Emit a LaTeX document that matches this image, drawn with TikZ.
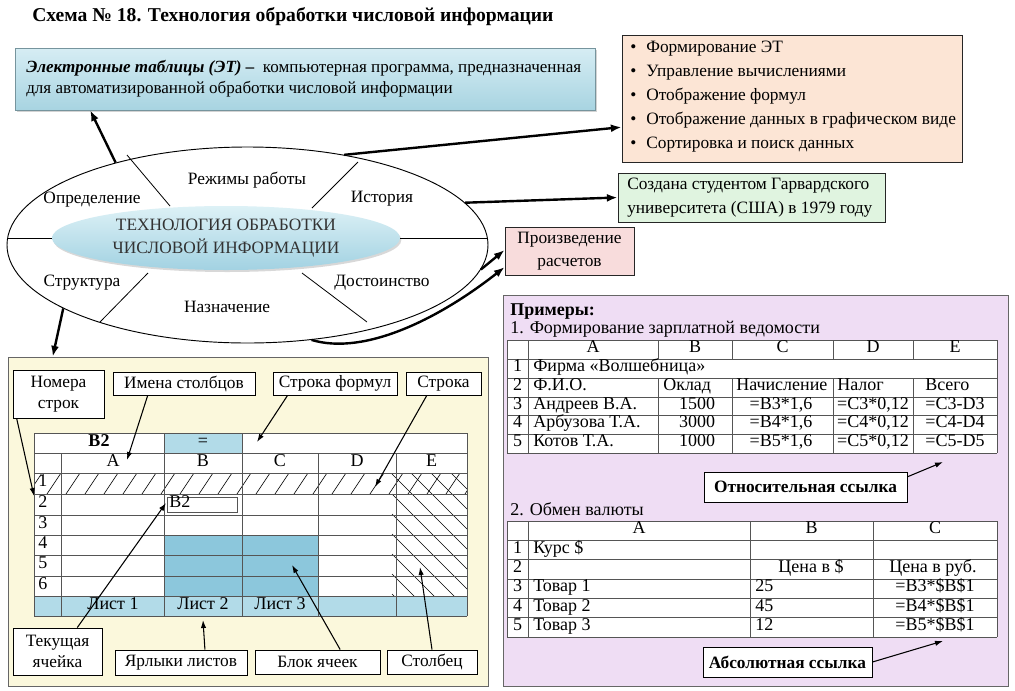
\documentclass[tikz,border=0pt]{standalone}
\usepackage{fontspec}
\setmainfont{Liberation Serif}
\usetikzlibrary{arrows.meta,calc,shadows,shapes.geometric}
\definecolor{defTop}{HTML}{D6EDF4}
\definecolor{defBot}{HTML}{A8D4E1}
\definecolor{listFill}{HTML}{FCE5D5}
\definecolor{greenFill}{HTML}{E0F4E0}
\definecolor{pinkFill}{HTML}{F8DCDC}
\definecolor{exFill}{HTML}{EFDDF4}
\definecolor{sheetFill}{HTML}{FBF8DC}
\definecolor{tabBlue}{HTML}{B2DBE8}
\definecolor{blockBlue}{HTML}{8CC7DC}
\definecolor{ellTop}{HTML}{DDF1F6}
\definecolor{ellBot}{HTML}{A2D2E2}
\definecolor{gridLine}{HTML}{555555}
\tikzset{
  plainbox/.style={draw=black!85, line width=0.7pt, inner sep=0pt},
  callout/.style={draw=black, fill=white, line width=0.7pt, inner sep=0pt, align=center, font=\fontsize{13}{16}\selectfont},
  bigarrow/.style={line width=1.8pt, -{Latex[length=8pt,width=6pt]}},
  thinarrow/.style={line width=0.8pt, -{Latex[length=6pt,width=4pt]}},
  gl/.style={draw=gridLine, line width=0.6pt},
  txt/.style={inner sep=0pt},
  tc/.style={inner sep=0pt, anchor=mid},
  tl/.style={inner sep=0pt, anchor=mid west},
  tabfont/.style={font=\fontsize{13.5}{15}\selectfont},
}
\begin{document}
\begin{tikzpicture}[x=0.75pt,y=-0.75pt,font=\fontsize{13}{15}\selectfont]
\useasboundingbox (0,0) rectangle (1015,690);

% ---------- title
\node[txt,anchor=mid west,font=\bfseries\fontsize{14.7}{17}\selectfont] (title) at (32,18) {Схема № 18. Технология обработки числовой информации};

% ---------- definition box
\node[draw=defBot!70!black, line width=0.4pt, top color=defTop, bottom color=defBot,
      drop shadow={shadow xshift=1.5pt,shadow yshift=-1.5pt,opacity=0.35},
      minimum width=435pt, minimum height=46.5pt, inner sep=0pt] (def) at (305,79) {};
\node[txt,anchor=west,align=left,font=\fontsize{12.8}{15.75}\selectfont] (defT) at (26,79)
  {\textbf{\textit{Электронные таблицы (ЭТ) –}}\ \ компьютерная программа, предназначенная\\для автоматизированной обработки числовой информации};

% ---------- list box
\node[plainbox, fill=listFill, minimum width=255pt, minimum height=95.25pt] (list) at (792,98.5) {};
\node[txt,anchor=west,align=left,font=\fontsize{13}{18}\selectfont] (listT) at (630,97)
  {\textbullet\hspace{7.5pt}Формирование ЭТ\\
   \textbullet\hspace{7.5pt}Управление вычислениями\\
   \textbullet\hspace{7.5pt}Отображение формул\\
   \textbullet\hspace{7.5pt}Отображение данных в графическом виде\\
   \textbullet\hspace{7.5pt}Сортировка и поиск данных};

% ---------- history box
\node[plainbox, fill=greenFill, minimum width=200.25pt, minimum height=36.75pt] (hist) at (751.5,197.5) {};
\node[txt,anchor=west,align=left,font=\fontsize{13}{18}\selectfont] (histT) at (627,198)
  {Создана студентом Гарвардского\\университета (США) в 1979 году};

% ---------- calculation box
\node[plainbox, fill=pinkFill, minimum width=96.75pt, minimum height=36pt, align=center,
      font=\fontsize{13}{17}\selectfont] (prod) at (569.5,251) {Произведение\\расчетов};

% ---------- ellipses
\node[ellipse, draw, line width=0.7pt, fill=white, minimum width=360.75pt, minimum height=147pt, inner sep=0pt] (outer) at (247.5,245) {};
\draw[line width=0.6pt] (127,155) -- (170,206);
\draw[line width=0.6pt] (358,162) -- (312,208);
\draw[line width=0.6pt] (148,273) -- (100,322);
\draw[line width=0.6pt] (302,273) -- (367,322);
\node[ellipse, top color=ellTop, bottom color=ellBot, minimum width=261pt, minimum height=48pt, inner sep=0pt,
      drop shadow={shadow xshift=1pt,shadow yshift=-1.5pt,opacity=0.3}, align=center,
      font=\fontsize{13}{17}\selectfont, text=black!80] (inner) at (226,238) {ТЕХНОЛОГИЯ ОБРАБОТКИ\\ЧИСЛОВОЙ ИНФОРМАЦИИ};
\draw[line width=0.6pt] (7,238) -- (inner.west);
\draw[line width=0.6pt] (inner.east) -- (488,238);
\node[txt] (lRez) at (247,180) {Режимы работы};
\node[txt] (lOpr) at (92,200) {Определение};
\node[txt] (lIst) at (382,199) {История};
\node[txt] (lStr) at (82,283) {Структура};
\node[txt] (lDos) at (382,283) {Достоинство};
\node[txt] (lNaz) at (227,307) {Назначение};

% ---------- spreadsheet panel
\node[draw=black!60, line width=0.7pt, fill=sheetFill, minimum width=360pt, minimum height=246.75pt, inner sep=0pt] (sheet) at (248,521.5) {};
\fill[white] (34,433) rectangle (467,616);
\fill[tabBlue] (34,596) rectangle (467,616);
\fill[tabBlue] (164,433) rectangle (242,453);
\fill[blockBlue] (164,535) rectangle (318,596);
\begin{scope}
  \clip (34,473) rectangle (467,494);
  \foreach \x in {28,47,...,480} \draw[line width=0.5pt] (\x,494) -- (\x+14,473);
\end{scope}
\begin{scope}
  \clip (390,473) rectangle (467,596);
  \foreach \k in {2,...,11} \draw[line width=0.5pt] (392,374+20*\k) -- ++(250,250);
\end{scope}
\foreach \y in {433,453,473,494,515,535,555,576,596,616} \draw[gl] (34,\y) -- (467,\y);
\foreach \x in {34,164,242,467} \draw[gl] (\x,433) -- (\x,616);
\foreach \x in {61,318,396} \draw[gl] (\x,453) -- (\x,616);
\begin{scope}[tabfont]
\node[tc,font=\bfseries\fontsize{13.5}{15}\selectfont] (sB2) at (99,443) {B2};
\node[tc] (sEq) at (203,443) {=};
\node[tc] (sA) at (113,463) {A};
\node[tc] (sB) at (203,463) {B};
\node[tc] (sC) at (280,463) {C};
\node[tc] (sD) at (357,463) {D};
\node[tc] (sE) at (431.5,463) {E};
\node[tl] (sR1) at (38,483.5) {1};
\node[tl] (sR2) at (38,504.5) {2};
\node[tl] (sR3) at (38,525) {3};
\node[tl] (sR4) at (38,545) {4};
\node[tl] (sR5) at (38,565.5) {5};
\node[tl] (sR6) at (38,586) {6};
\node[draw=gridLine, fill=white, line width=0.6pt, minimum width=52.5pt, minimum height=11.25pt, inner sep=0pt] (curcell) at (202,504.5) {};
\node[tl] (curT) at (169,504.5) {B2};
\node[tc] (tab1) at (113,606) {Лист 1};
\node[tc] (tab2) at (203,606) {Лист 2};
\node[tc] (tab3) at (280,606) {Лист 3};
\end{scope}

\coordinate (cRow) at (34,496);
\coordinate (cColA) at (127,460);
\coordinate (cFormula) at (257,442);
\coordinate (cRow1) at (375,487);
\coordinate (cCell) at (166,503);
\coordinate (cTabs) at (203,620);
\coordinate (cBlock) at (292,565);
\coordinate (cCol) at (420,567);

\node[callout, minimum width=68.25pt, minimum height=36pt] (nomera) at (58.5,394) {Номера\\строк};
\node[callout, minimum width=106.5pt, minimum height=17.25pt] (imena) at (184,383.5) {Имена столбцов};
\node[callout, minimum width=93pt, minimum height=17.25pt] (formul) at (335,383.5) {Строка формул};
\node[callout, minimum width=56.25pt, minimum height=17.25pt] (stroka) at (443.5,383.5) {Строка};
\node[callout, minimum width=66.75pt, minimum height=35.25pt] (tekush) at (57.5,651.5) {Текущая\\ячейка};
\node[callout, minimum width=99pt, minimum height=18.75pt] (yarlyki) at (181,662.5) {Ярлыки листов};
\node[callout, minimum width=93.75pt, minimum height=18pt] (blok) at (317.5,662) {Блок ячеек};
\node[callout, minimum width=67.5pt, minimum height=18pt] (stolb) at (432,662) {Столбец};

\draw[thinarrow] ($(nomera.south west)!0.045!(nomera.south east)$) -- (cRow);
\draw[thinarrow] ($(imena.south west)!0.246!(imena.south east)$) -- (cColA);
\draw[thinarrow] ($(formul.south west)!0.12!(formul.south east)$) -- (cFormula);
\draw[thinarrow] ($(stroka.south west)!0.28!(stroka.south east)$) -- (cRow1);
\draw[thinarrow] ($(tekush.north west)!0.72!(tekush.north east)$) -- (cCell);
\draw[thinarrow] ($(yarlyki.north west)!0.68!(yarlyki.north east)$) -- (cTabs);
\draw[thinarrow] ($(blok.north west)!0.68!(blok.north east)$) -- (cBlock);
\draw[thinarrow] (stolb.north) -- (cCol);

% ---------- examples panel
\node[draw=black!60, line width=0.7pt, fill=exFill, minimum width=378.75pt, minimum height=293.25pt, inner sep=0pt] (ex) at (755.5,490.5) {};
\node[tl,font=\bfseries\fontsize{13.5}{15}\selectfont] (exT) at (510,312) {Примеры:};
\node[tl,tabfont] (ex1) at (510,330) {1. Формирование зарплатной ведомости};

% table 1
\fill[white] (507,340) rectangle (997,453);
\foreach \y in {340,359,378,397,415,434,453} \draw[gl] (507,\y) -- (997,\y);
\foreach \x in {507,528,997} \draw[gl] (\x,340) -- (\x,453);
\foreach \x in {658,732,833,913} {\draw[gl] (\x,340) -- (\x,359); \draw[gl] (\x,378) -- (\x,453);}
\begin{scope}[tabfont]
\node[tc] (t1A) at (593,349.5) {A};
\node[tc] (t1B) at (695,349.5) {B};
\node[tc] (t1C) at (782.5,349.5) {C};
\node[tc] (t1D) at (873,349.5) {D};
\node[tc] (t1E) at (955,349.5) {E};
\node[tc] (t1n1) at (517.5,368.5) {1};
\node[tc] (t1n2) at (517.5,387.5) {2};
\node[tc] (t1n3) at (517.5,406) {3};
\node[tc] (t1n4) at (517.5,424.5) {4};
\node[tc] (t1n5) at (517.5,443.5) {5};
\node[tl] (t1a1) at (533,368.5) {Фирма «Волшебница»};
\node[tl] (t1a2) at (533,387.5) {Ф.И.О.};
\node[tl] (t1b2) at (663,387.5) {Оклад};
\node[tl] (t1c2) at (736,387.5) {Начисление};
\node[tl] (t1d2) at (837,387.5) {Налог};
\node[tl] (t1e2) at (925,387.5) {Всего};
\node[tl] (t1a3) at (533,406) {Андреев В.А.};
\node[tl] (t1a4) at (533,424.5) {Арбузова Т.А.};
\node[tl] (t1a5) at (533,443.5) {Котов Т.А.};
\node[tc] (t1b3) at (697,406) {1500};
\node[tc] (t1b4) at (697,424.5) {3000};
\node[tc] (t1b5) at (697,443.5) {1000};
\node[tc] (t1c3) at (781,406) {=B3*1,6};
\node[tc] (t1c4) at (781,424.5) {=B4*1,6};
\node[tc] (t1c5) at (781,443.5) {=B5*1,6};
\node[tc] (t1d3) at (873,406) {=C3*0,12};
\node[tc] (t1d4) at (873,424.5) {=C4*0,12};
\node[tc] (t1d5) at (873,443.5) {=C5*0,12};
\node[tc] (t1e3) at (955,406) {=C3-D3};
\node[tc] (t1e4) at (955,424.5) {=C4-D4};
\node[tc] (t1e5) at (955,443.5) {=C5-D5};
\end{scope}
\coordinate (cRel) at (943,462);

\node[callout, font=\bfseries\fontsize{13}{15}\selectfont, minimum width=152.25pt, minimum height=22.5pt] (rel) at (805.5,487) {Относительная ссылка};
\draw[thinarrow] ($(rel.north east)!0.17!(rel.south east)$) -- (cRel);

\node[tl,tabfont] (ex2) at (510,512) {2. Обмен валюты};

% table 2
\fill[white] (507,521) rectangle (997,637);
\foreach \y in {521,540.3,559.7,579,598.3,617.7,637} \draw[gl] (507,\y) -- (997,\y);
\foreach \x in {507,528,750,873,997} \draw[gl] (\x,521) -- (\x,637);
\begin{scope}[tabfont]
\node[tc] (t2A) at (639,530.7) {A};
\node[tc] (t2B) at (811.5,530.7) {B};
\node[tc] (t2C) at (935,530.7) {C};
\node[tc] (t2n1) at (517.5,550) {1};
\node[tc] (t2n2) at (517.5,569.3) {2};
\node[tc] (t2n3) at (517.5,588.7) {3};
\node[tc] (t2n4) at (517.5,608) {4};
\node[tc] (t2n5) at (517.5,627.3) {5};
\node[tl] (t2a1) at (533,550) {Курс \$};
\node[tc] (t2b2) at (811,569.3) {Цена в \$};
\node[tc] (t2c2) at (933,569.3) {Цена в руб.};
\node[tl] (t2a3) at (533,588.7) {Товар 1};
\node[tl] (t2a4) at (533,608) {Товар 2};
\node[tl] (t2a5) at (533,627.3) {Товар 3};
\node[tl] (t2b3) at (755,588.7) {25};
\node[tl] (t2b4) at (755,608) {45};
\node[tl] (t2b5) at (755,627.3) {12};
\node[tc] (t2c3) at (935,588.7) {=B3*\$B\$1};
\node[tc] (t2c4) at (935,608) {=B4*\$B\$1};
\node[tc] (t2c5) at (935,627.3) {=B5*\$B\$1};
\end{scope}
\coordinate (cAbs) at (943,641);

\node[callout, font=\bfseries\fontsize{13}{15}\selectfont, minimum width=126.75pt, minimum height=22.5pt] (abs) at (787.5,662) {Абсолютная ссылка};
\draw[thinarrow] (abs.east) -- (cAbs);

% ---------- main arrows
\draw[bigarrow] (outer.148) -- ($(def.south west)!0.13!(def.south east)$);
\draw[bigarrow] (outer.43) -- ($(list.south west)!0.276!(list.north west)$);
\draw[bigarrow] (outer.11) -- (hist.west);
\draw[bigarrow] (outer.-6) -- ($(prod.south west)!0.52!(prod.north west)$);
\draw[bigarrow] (outer.-56) .. controls (365,356) and (440,318) .. ($(prod.south west)!0.17!(prod.north west)$);
\draw[bigarrow] (outer.-161) -- ($(sheet.north west)!0.094!(sheet.north east)$);
\end{tikzpicture}
\end{document}
